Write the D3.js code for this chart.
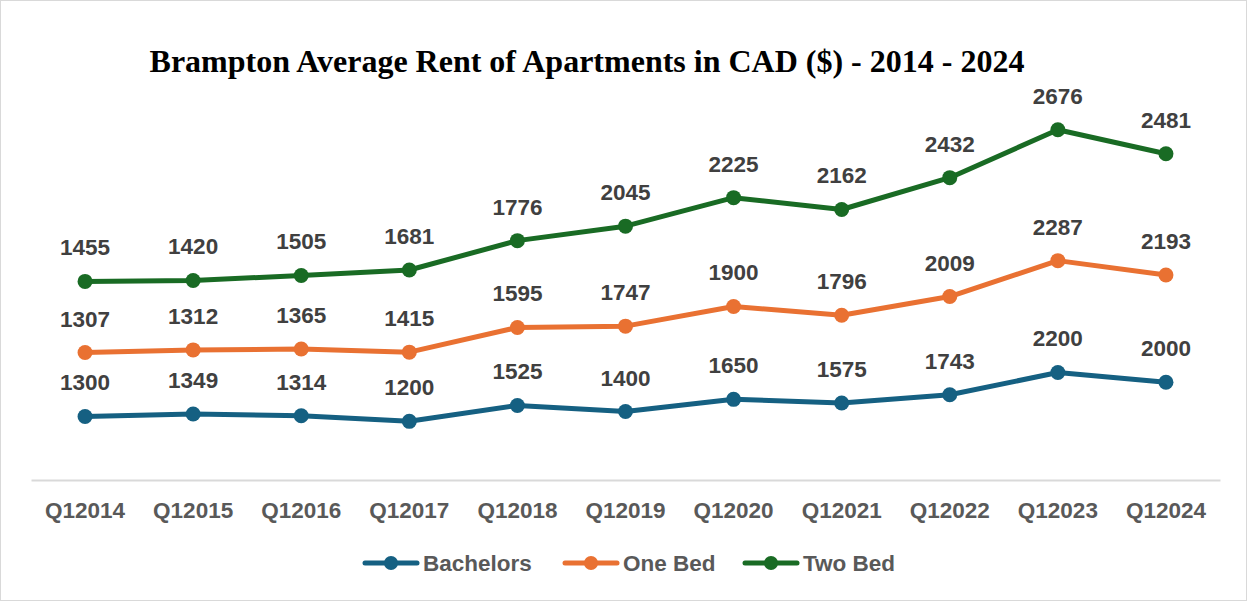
<!DOCTYPE html>
<html>
<head>
<meta charset="utf-8">
<script src="https://cdn.jsdelivr.net/npm/d3@7"></script>
<style>
  body { margin: 0; background: #fff; }
  svg { display: block; }
</style>
</head>
<body>
<div id="chart"></div>
<script>
// chart data
var quarters = ["Q12014", "Q12015", "Q12016", "Q12017", "Q12018", "Q12019",
                "Q12020", "Q12021", "Q12022", "Q12023", "Q12024"];
var bachelors = [1300, 1349, 1314, 1200, 1525, 1400, 1650, 1575, 1743, 2200, 2000];
var oneBed    = [1307, 1312, 1365, 1415, 1595, 1747, 1900, 1796, 2009, 2287, 2193];
var twoBed    = [1455, 1420, 1505, 1681, 1776, 2045, 2225, 2162, 2432, 2676, 2481];
var seriesNames = ["Bachelors", "One Bed", "Two Bed"];
var colors = ["#156082", "#e97132", "#196b24"];

var W = 1247, H = 602;
var font = "'Liberation Sans', Arial, sans-serif";

var svg = d3.select("#chart").append("svg")
    .attr("width", W)
    .attr("height", H);

// outer border
svg.append("rect")
    .attr("x", 0.5).attr("y", 0.5)
    .attr("width", W - 1).attr("height", H - 2)
    .attr("fill", "#fff")
    .attr("stroke", "#d9d9d9");

// title
svg.append("text")
    .attr("x", 587)
    .attr("y", 72)
    .attr("text-anchor", "middle")
    .style("font-family", "'Liberation Serif', 'Times New Roman', serif")
    .style("font-weight", "bold")
    .style("font-size", "32px")
    .attr("fill", "#000")
    .text("Brampton Average Rent of Apartments in CAD ($) - 2014 - 2024");

// build rows for the stack
var rows = quarters.map(function(q, i) {
    return {q: q, "Bachelors": bachelors[i], "One Bed": oneBed[i], "Two Bed": twoBed[i]};
});
var stacked = d3.stack().keys(seriesNames)(rows);

// scales
var x = d3.scaleBand()
    .domain(quarters)
    .range([31, 1220]);

var y = d3.scaleLinear()
    .domain([0, 9000])
    .range([480, 40]);

function cx(d) { return x(d.data.q) + x.bandwidth() / 2; }

// x axis
var xAxis = svg.append("g")
    .attr("transform", "translate(0,480)")
    .call(d3.axisBottom(x).tickSize(0).tickPadding(22));
xAxis.select(".domain").attr("stroke", "#d9d9d9").attr("stroke-width", 2);
xAxis.selectAll("text")
    .attr("dy", "0.71em")
    .style("font-family", font)
    .style("font-weight", "bold")
    .style("font-size", "22.5px")
    .attr("fill", "#595959");

var line = d3.line()
    .x(cx)
    .y(function(d) { return y(d[1]); });

var groups = svg.selectAll(".series")
    .data(stacked)
    .enter().append("g")
    .attr("class", "series");

groups.append("path")
    .attr("d", function(s) { return line(s); })
    .attr("fill", "none")
    .attr("stroke", function(s, i) { return colors[i]; })
    .attr("stroke-width", 5)
    .attr("stroke-linejoin", "round");

groups.selectAll("circle")
    .data(function(s, i) { return s.map(function(d) { return {d: d, i: i}; }); })
    .enter().append("circle")
    .attr("cx", function(p) { return cx(p.d); })
    .attr("cy", function(p) { return y(p.d[1]); })
    .attr("r", 7.5)
    .attr("fill", function(p) { return colors[p.i]; });

// data labels (the series' own values, not the stacked totals)
groups.selectAll(".lbl")
    .data(function(s) { return s.map(function(d) { return {d: d, key: s.key}; }); })
    .enter().append("text")
    .attr("class", "lbl")
    .attr("x", function(p) { return cx(p.d); })
    .attr("y", function(p) { return y(p.d[1]) - 26; })
    .attr("text-anchor", "middle")
    .style("font-family", font)
    .style("font-weight", "bold")
    .style("font-size", "22.5px")
    .attr("fill", "#404040")
    .text(function(p) { return p.d.data[p.key]; });

// legend
var legendX = [363, 563, 743];
var legend = svg.selectAll(".legend")
    .data(seriesNames)
    .enter().append("g")
    .attr("class", "legend")
    .attr("transform", function(d, i) { return "translate(" + legendX[i] + ",563)"; });

legend.append("line")
    .attr("x1", 2).attr("x2", 54)
    .attr("stroke", function(d, i) { return colors[i]; })
    .attr("stroke-width", 5)
    .attr("stroke-linecap", "round");

legend.append("circle")
    .attr("cx", 28)
    .attr("r", 7)
    .attr("fill", function(d, i) { return colors[i]; });

legend.append("text")
    .attr("x", 60)
    .attr("dy", "0.36em")
    .style("font-family", font)
    .style("font-weight", "bold")
    .style("font-size", "22.5px")
    .attr("fill", "#595959")
    .text(function(d) { return d; });
</script>
</body>
</html>
